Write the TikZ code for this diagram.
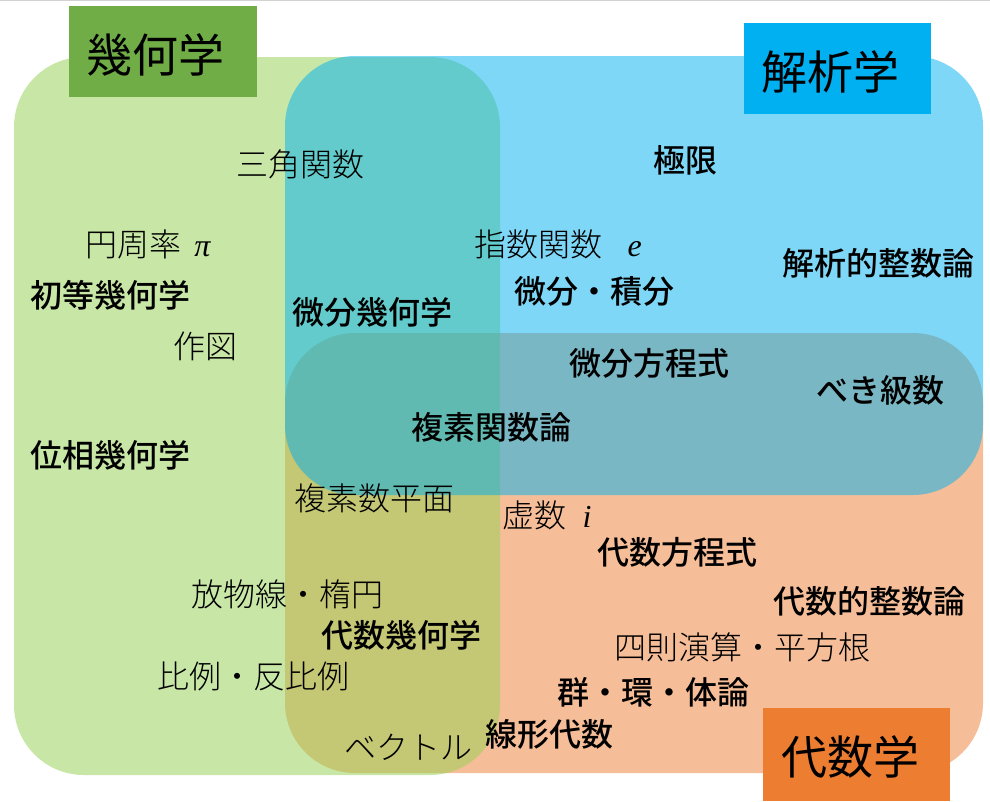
\documentclass[tikz,border=0pt]{standalone}
\usepackage{fontspec}
\newfontfamily\jp{Noto Sans CJK JP Light}[BoldFont={Noto Sans CJK JP Medium}]
\newfontfamily\jpreg{Noto Sans CJK JP}
\newfontfamily\tm{Liberation Serif}
\definecolor{geomgreen}{HTML}{92D050}
\definecolor{anablue}{HTML}{00B0F0}
\definecolor{algorange}{HTML}{ED7D31}
\definecolor{geombox}{HTML}{70AD47}
\newcommand{\sym}[1]{{\tm\itshape #1}}
\tikzset{
  area/.style={fill opacity=0.5, rounded corners=70pt},
  term/.style={font=\jp\fontsize{32}{32}\selectfont, inner sep=0pt},
  keyterm/.style={font=\jp\bfseries\fontsize{32}{32}\selectfont, inner sep=0pt},
  fieldlabel/.style={font=\jpreg\fontsize{46}{46}\selectfont, inner sep=0pt},
}
\begin{document}
\begin{tikzpicture}[x=1pt,y=-1pt]
    \useasboundingbox (0,0) rectangle (990,801);
    \draw[gray!35] (0,0.5) -- (990,0.5);
    % the three fields
    \fill[area, algorange] (285,333) rectangle (983,773);
    \fill[area, geomgreen] (14,57) rectangle (500,775);
    \fill[area, anablue] (285,56) rectangle (983,495);
    % field names
    \fill[geombox] (69,6) rectangle (257,97);
    \fill[anablue] (744,23) rectangle (931,114);
    \fill[algorange] (763,708) rectangle (950,801);
    \node[fieldlabel] (geom) at (155,55) {幾何学};
    \node[fieldlabel] (ana) at (830,72) {解析学};
    \node[fieldlabel] (alg) at (850,757) {代数学};
    % terms
    \node[term] (sankaku) at (300,164) {三角関数};
    \node[term] (enshu) at (148,244) {円周率\hspace{0.4em}\sym{π}};
    \node[keyterm] (shoto) at (110,295) {初等幾何学};
    \node[term] (sakuzu) at (205,346) {作図};
    \node[keyterm] (bibunkika) at (372,312) {微分幾何学};
    \node[keyterm] (iso) at (110,455) {位相幾何学};
    \node[term] (heimen) at (374,498) {複素数平面};
    \node[term] (daen) at (287,594) {放物線・楕円};
    \node[keyterm] (daisukika) at (401,635) {代数幾何学};
    \node[term] (hirei) at (253,676) {比例・反比例};
    \node[term] (vector) at (408,747) {ベクトル};
    \node[keyterm] (fukuso) at (491,427) {複素関数論};
    \node[keyterm] (senkei) at (549,734) {線形代数};
    \node[term] (shisu) at (558,244) {指数関数\hspace{0.8em}\sym{e}};
    \node[keyterm] (bisekibun) at (594,291) {微分・積分};
    \node[keyterm] (kyokugen) at (685,160) {極限};
    \node[keyterm] (kaiseki) at (878,263) {解析的整数論};
    \node[keyterm] (bibunhotei) at (649,363) {微分方程式};
    \node[keyterm] (beki) at (880,390) {べき級数};
    \node[term] (kyosu) at (547,515) {虚数\hspace{0.5em}\sym{i}};
    \node[keyterm] (daisuhotei) at (677,552) {代数方程式};
    \node[keyterm] (daisuseisu) at (869,601) {代数的整数論};
    \node[term] (shisoku) at (742,647) {四則演算・平方根};
    \node[keyterm] (gun) at (653,692) {群・環・体論};
\end{tikzpicture}
\end{document}
